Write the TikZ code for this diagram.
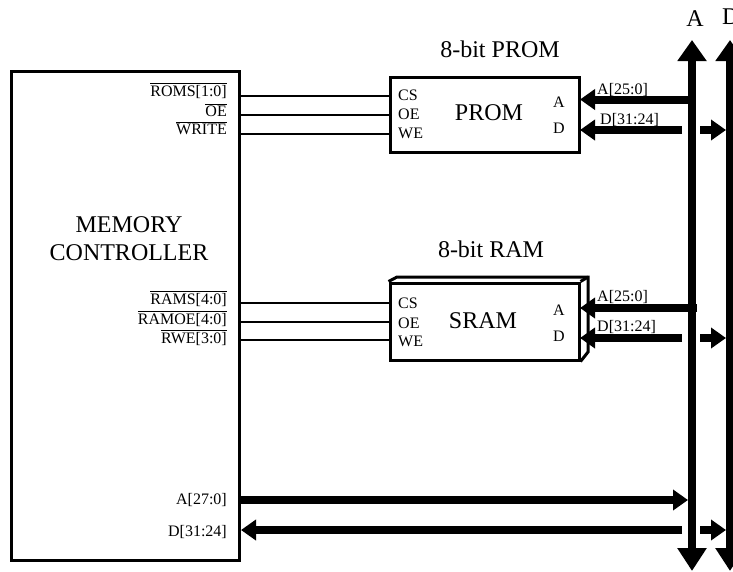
\documentclass[tikz,border=0pt]{standalone}
\usepackage{fontspec}
\setmainfont{Liberation Serif}
\usetikzlibrary{arrows.meta}

\tikzset{
	block/.style={draw, line width=3pt, inner sep=0pt, font=\fontsize{24}{28}\selectfont},
	wire/.style={line width=2pt},
	edge3d/.style={line width=3pt, line join=miter},
	busline/.style={line width=8pt, -{Triangle[length=15pt,width=20pt]}},
	mainbus/.style={line width=8pt, {Triangle[length=23pt,width=28pt]}-{Triangle[length=21pt,width=28pt]}},
	bigtext/.style={inner sep=0pt, font=\fontsize{24}{28}\selectfont},
	sigE/.style={inner sep=0pt, anchor=base east, font=\fontsize{16}{16}\selectfont},
	sigW/.style={inner sep=0pt, anchor=base west, font=\fontsize{16}{16}\selectfont},
}
\newcommand{\ovl}[1]{$\overline{\mbox{#1}}$}

\begin{document}
\begin{tikzpicture}[x=1pt, y=-1pt]
	\useasboundingbox (0,0) rectangle (733,571);

	% --- Blocks ---
	\node[block, minimum width=228pt, minimum height=489pt] (ctrl) at (125.5,315.5) {};
	\node[block, minimum width=189pt, minimum height=75pt] (prom) at (484.5,114.5) {};
	\node[block, minimum width=189pt, minimum height=77pt] (sram) at (484.5,321.5) {};

	% SRAM depth
	\draw[edge3d] (sram.north west) -- (397,277) -- (588,277) -- (588,352) -- (sram.south east);
	\draw[edge3d] (588,277) -- (sram.north east);

	% --- Block texts ---
	\node[bigtext, anchor=base, align=center] (ctrlname) at (129,260) {MEMORY\\CONTROLLER};
	\node[bigtext, anchor=base] (promname) at (489,120) {PROM};
	\node[bigtext, anchor=base] (sramname) at (483,328) {SRAM};
	\node[bigtext, anchor=base] (promtitle) at (500,57) {8-bit PROM};
	\node[bigtext, anchor=base] (ramtitle) at (491,257) {8-bit RAM};
	\node[bigtext, anchor=base] (atitle) at (695,26) {A};
	\node[bigtext, anchor=base west] (dtitle) at (722,24) {D};

	% --- Bus coordinates ---
	\coordinate (Atop) at (692,40);
	\coordinate (Abot) at (692,571);
	\coordinate (Dtop) at (730,40);
	\coordinate (Dbot) at (730,571);

	% --- Main buses ---
	\draw[mainbus] (Abot) -- (Atop);
	\draw[mainbus] (Dbot) -- (Dtop);

	% --- PROM wires ---
	\coordinate (Pcs) at (390,96);
	\coordinate (Poe) at (390,115);
	\coordinate (Pwe) at (390,134);
	\draw[wire] (Pcs -| ctrl.east) -- (Pcs);
	\draw[wire] (Poe -| ctrl.east) -- (Poe);
	\draw[wire] (Pwe -| ctrl.east) -- (Pwe);

	% --- SRAM wires ---
	\coordinate (Scs) at (390,303);
	\coordinate (Soe) at (390,322);
	\coordinate (Swe) at (390,340);
	\draw[wire] (Scs -| ctrl.east) -- (Scs);
	\draw[wire] (Soe -| ctrl.east) -- (Soe);
	\draw[wire] (Swe -| ctrl.east) -- (Swe);

	% --- Bus branches ---
	\coordinate (Pa) at (580,99.5);
	\coordinate (Pd) at (580,130);
	\coordinate (Sa) at (580,308);
	\coordinate (Sd) at (580,338);
	\coordinate (Ma) at (688,500);
	\coordinate (Md) at (241,530);

	\draw[busline] (Pa -| Atop) -- (Pa);
	\draw[busline] (682,130) -- (Pd);
	\draw[busline] (700,130) -- (726,130);

	\draw[busline] (697,308) -- (Sa);
	\draw[busline] (682,338) -- (Sd);
	\draw[busline] (700,338) -- (726,338);

	\draw[busline] (Ma -| ctrl.east) -- (Ma);
	\draw[busline] (682,530) -- (Md);
	\draw[busline] (700,530) -- (726,530);

	% --- Controller signals ---
	\node[sigE] (roms) at (227,96) {\ovl{ROMS[1:0]}};
	\node[sigE] (oe) at (227,116) {\ovl{OE}};
	\node[sigE] (write) at (227,134) {\ovl{WRITE}};
	\node[sigE] (rams) at (227,304) {\ovl{RAMS[4:0]}};
	\node[sigE] (ramoe) at (227,324) {\ovl{RAMOE[4:0]}};
	\node[sigE] (rwe) at (227,343) {\ovl{RWE[3:0]}};
	\node[sigE] (addr) at (227,504) {A[27:0]};
	\node[sigE] (data) at (227,536) {D[31:24]};

	% --- PROM pins ---
	\node[sigW] (pcs) at (398,100) {CS};
	\node[sigW] (poe) at (398,119) {OE};
	\node[sigW] (pwe) at (398,138) {WE};
	\node[sigW] (pa) at (553,107) {A};
	\node[sigW] (pd) at (553,133) {D};
	\node[sigW] (pabus) at (597,94) {A[25:0]};
	\node[sigW] (pdbus) at (600,124) {D[31:24]};

	% --- SRAM pins ---
	\node[sigW] (scs) at (398,308) {CS};
	\node[sigW] (soe) at (398,328) {OE};
	\node[sigW] (swe) at (398,346) {WE};
	\node[sigW] (sa) at (553,315) {A};
	\node[sigW] (sd) at (553,341) {D};
	\node[sigW] (sabus) at (597,301) {A[25:0]};
	\node[sigW] (sdbus) at (597,331) {D[31:24]};
\end{tikzpicture}
\end{document}
